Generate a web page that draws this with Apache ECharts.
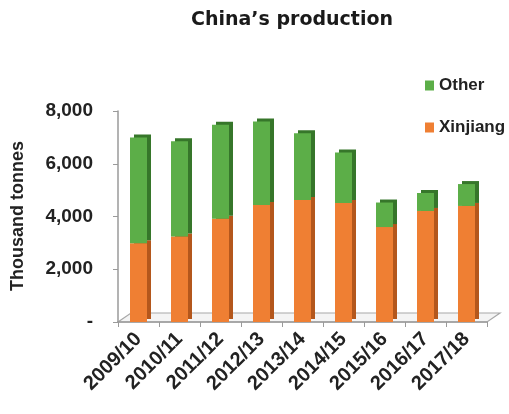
<!DOCTYPE html>
<html>
<head>
<meta charset="utf-8">
<script src="https://cdn.jsdelivr.net/npm/echarts@6/dist/echarts.min.js"></script>
<style>
  html, body { margin: 0; padding: 0; background: #fff; }
  #chart { width: 509px; height: 414px; }
</style>
</head>
<body>
<div id="chart"></div>
<script>
// Marketing years on the category axis
const seasons = ['2009/10', '2010/11', '2011/12', '2012/13', '2013/14', '2014/15', '2015/16', '2016/17', '2017/18'];
// Production, thousand tonnes
const xinjiang = [2990, 3240, 3910, 4440, 4630, 4510, 3600, 4210, 4400];
const other = [4010, 3610, 3570, 3160, 2530, 1920, 930, 680, 830];
// Value axis ticks
const yTicks = [0, 2000, 4000, 6000, 8000];

const fmt = v => (v === 0 ? '-' : v.toLocaleString('en-US'));

const GRID = { left: 118, right: 22, top: 111, bottom: 92 };
const H = 414, W = 509;
const floorY = H - GRID.bottom;        // front edge of the floor
const floorR = W - GRID.right;

const chart = echarts.init(document.getElementById('chart'), null, { renderer: 'canvas' });

chart.setOption({
  backgroundColor: '#ffffff',
  animation: false,
  title: {
    text: 'China\u2019s production',
    left: 287,
    top: 6,
    textAlign: 'center',
    textStyle: { fontFamily: 'DejaVu Sans', fontWeight: 'bold', fontSize: 19, color: '#1a1a1a' }
  },
  legend: {
    data: ['Other', 'Xinjiang'],
    orient: 'vertical',
    left: 420,
    top: 72,
    itemWidth: 9,
    itemHeight: 10,
    itemGap: 25,
    icon: 'rect',
    textStyle: { fontFamily: 'Liberation Sans', fontWeight: 'bold', fontSize: 17, color: '#222' }
  },
  grid: GRID,
  graphic: [
    {
      type: 'polygon',
      z: 0,
      shape: { points: [[GRID.left, floorY], [floorR, floorY], [floorR + 13, floorY - 9], [GRID.left + 13, floorY - 9]] },
      style: { fill: '#f4f4f4', stroke: '#a8a8a8', lineWidth: 1.2 }
    },
    {
      type: 'text',
      left: 9,
      top: 141,
      rotation: Math.PI / 2,
      style: { text: 'Thousand tonnes', fontFamily: 'Liberation Sans', fontWeight: 'bold', fontSize: 18, fill: '#222' }
    }
  ],
  xAxis: {
    type: 'category',
    data: seasons,
    axisLine: { show: true, lineStyle: { color: '#9a9a9a', width: 1.5 } },
    axisTick: { show: true, length: 5, lineStyle: { color: '#9a9a9a' } },
    axisLabel: {
      rotate: 45,
      margin: 14,
      fontFamily: 'Liberation Sans',
      fontWeight: 'bold',
      fontSize: 20,
      color: '#222'
    }
  },
  yAxis: {
    type: 'value',
    min: yTicks[0],
    max: yTicks[yTicks.length - 1],
    interval: 2000,
    axisLine: { show: true, lineStyle: { color: '#9a9a9a', width: 1.5 } },
    axisTick: { show: true, length: 5, lineStyle: { color: '#9a9a9a' } },
    splitLine: { show: false },
    axisLabel: {
      margin: 25,
      formatter: fmt,
      fontFamily: 'Liberation Sans',
      fontWeight: 'bold',
      fontSize: 19,
      color: '#222'
    }
  },
  series: [
    {
      name: 'Xinjiang',
      type: 'bar',
      stack: 'total',
      data: xinjiang,
      barWidth: 17,
      z: 3,
      itemStyle: {
        color: '#ef7f33',
        shadowColor: '#b4571c',
        shadowOffsetX: 4,
        shadowOffsetY: -3,
        shadowBlur: 0
      }
    },
    {
      name: 'Other',
      type: 'bar',
      stack: 'total',
      data: other,
      barWidth: 17,
      z: 3,
      itemStyle: {
        color: '#5cae48',
        shadowColor: '#36762a',
        shadowOffsetX: 4,
        shadowOffsetY: -3,
        shadowBlur: 0
      }
    }
  ]
});
</script>
</body>
</html>
